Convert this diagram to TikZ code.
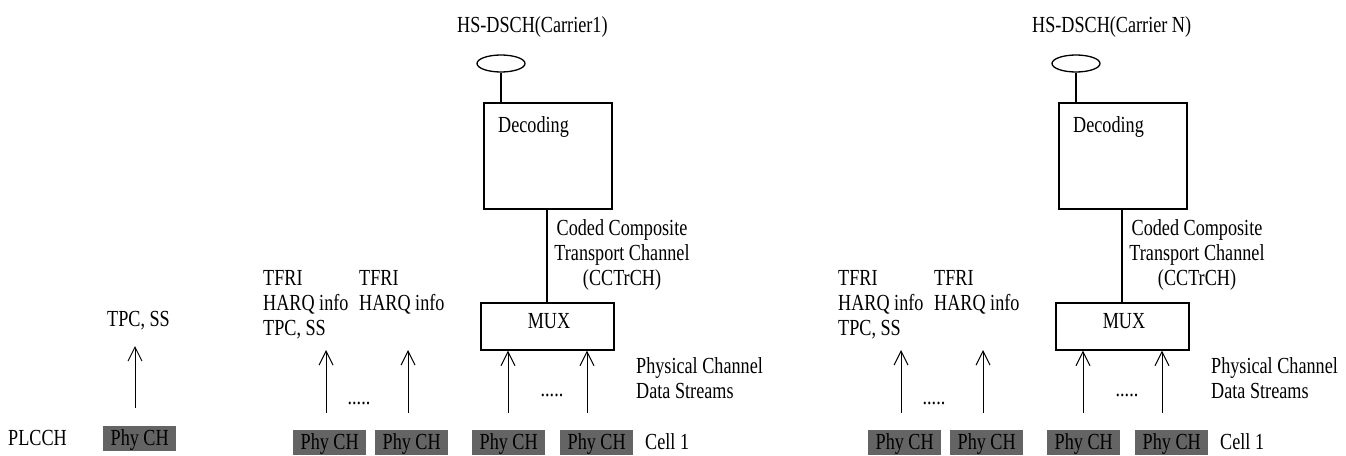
\documentclass[tikz,border=0pt]{standalone}
\usepackage{fontspec}
\setmainfont{Liberation Serif}[FakeStretch=0.79]
\usetikzlibrary{shapes.geometric,arrows.meta}
\definecolor{phygray}{RGB}{100,100,100}
\tikzset{
  txt/.style={inner sep=0pt, font=\fontsize{23}{25}\selectfont},
  phy/.style={txt, fill=phygray, anchor=north west, minimum width=73pt, inner xsep=0pt,
              inner ysep=2pt, text height=17pt, text depth=4pt},
  boxx/.style={draw, line width=1.3pt, inner sep=0pt},
  conn/.style={line width=1.2pt},
  arr/.style={line width=1pt, -{Straight Barb[length=14pt,width=14pt,line width=1pt]}},
  cloudy/.style={ellipse, draw, line width=1.3pt, minimum width=48pt, minimum height=17pt, inner sep=0pt}
}
\begin{document}
\begin{tikzpicture}[x=1pt,y=-1pt]
\useasboundingbox (0,0) rectangle (1346,455);
% left PLCCH part
\node[txt, anchor=base west] (plcch) at (8,445) {PLCCH};
\node[phy] (phy0) at (103,426) {Phy CH};
\node[txt, anchor=base west] (tpc0) at (107,326) {TPC, SS};
\coordinate (s0) at (135,408);
\draw[arr] (s0) -- (135,346);
% two carrier panels
\foreach \s/\o/\lab in {1/0/Carrier1, 2/575/Carrier N}{
  \begin{scope}[xshift=\o]
    \node[txt, anchor=base west] (hs\s) at (457,32) {HS-DSCH(\lab)};
    \node[cloudy] (ell\s) at (501,63.5) {};
    \node[boxx, minimum width=128pt, minimum height=106pt] (dec\s) at (548,156) {};
    \node[txt, anchor=base west] (dect\s) at (498,132) {Decoding};
    \node[boxx, minimum width=133pt, minimum height=47pt] (mux\s) at (547.5,326.5) {};
    \node[txt, anchor=base] (muxt\s) at (549,328) {MUX};
    \draw[conn] (ell\s.south) -- (ell\s.south |- dec\s.north);
    \coordinate (c\s) at (547,209);
    \draw[conn] (c\s) -- (c\s |- mux\s.north);
    \node[txt, anchor=north, align=center] (cc\s) at (622,219.5) {Coded Composite\\Transport Channel\\(CCTrCH)};
    \node[txt, anchor=north west, align=left] (tf\s a) at (263,269.8) {TFRI\\HARQ info\\TPC, SS};
    \node[txt, anchor=north west, align=left] (tf\s b) at (359,269.8) {TFRI\\HARQ info};
    \node[txt, anchor=base west, align=left] (pc\s) at (636,373) {Physical Channel};
    \node[txt, anchor=base west, align=left] (ds\s) at (636,398) {Data Streams};
    \node[txt, anchor=base west] (cell\s) at (645,449) {Cell 1};
    \node[txt, anchor=base] (dl\s) at (359,404) {.....};
    \node[txt, anchor=base] (dr\s) at (552,396) {.....};
    \node[phy] (p\s a) at (293,430) {Phy CH};
    \node[phy] (p\s b) at (375,430) {Phy CH};
    \node[phy] (p\s c) at (472,430) {Phy CH};
    \node[phy] (p\s d) at (560,430) {Phy CH};
    \coordinate (a\s a) at (326,413);
    \coordinate (a\s b) at (408,413);
    \coordinate (a\s c) at (508,413);
    \coordinate (a\s d) at (587,413);
    \draw[arr] (a\s a) -- ++(0,-63);
    \draw[arr] (a\s b) -- ++(0,-63);
    \draw[arr] (a\s c) -- (a\s c |- mux\s.south);
    \draw[arr] (a\s d) -- (a\s d |- mux\s.south);
  \end{scope}
}
\end{tikzpicture}
\end{document}
